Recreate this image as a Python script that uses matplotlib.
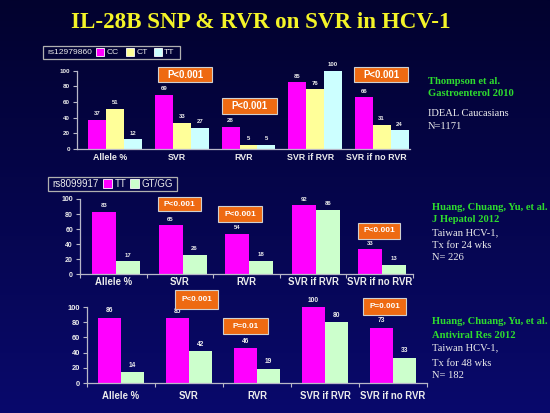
import matplotlib
matplotlib.use('Agg')
import matplotlib.pyplot as plt
from matplotlib.patches import Rectangle
from matplotlib.colors import LinearSegmentedColormap
import numpy as np

# ---- data ----
categories = ['Allele %', 'SVR', 'RVR', 'SVR if RVR', 'SVR if no RVR']

p1_cc = [37, 69, 28, 85, 66]
p1_ct = [51, 33, 5, 76, 31]
p1_tt = [12, 27, 5, 100, 24]

p2_tt = [83, 65, 54, 92, 33]
p2_gt = [17, 26, 18, 86, 13]

p3_tt = [86, 85, 46, 100, 73]
p3_gt = [14, 42, 19, 80, 33]

y_ticks = [0, 20, 40, 60, 80, 100]

BG_TOP = '#02022e'
BG_BOTTOM = '#09096c'
MAGENTA = '#ff00ff'
YELLOW = '#ffff99'
CYAN = '#ccffff'
GREEN = '#ccffcc'
ORANGE = '#ee6a12'
SPINE = '#b8b8c8'
TXT = '#ececec'
LIME = '#2edc2e'

SANS = 'Liberation Sans'
SERIF = 'Liberation Serif'

W, H = 550, 413
fig = plt.figure(figsize=(5.5, 4.13), dpi=100)
fig.patch.set_facecolor(BG_TOP)

# slide background: vertical gradient, dark at the top
bg = fig.add_axes([0, 0, 1, 1], zorder=-10)
grad = np.linspace(0, 1, 256).reshape(-1, 1)
bg.imshow(grad, aspect='auto', extent=[0, 1, 0, 1], origin='upper',
          cmap=LinearSegmentedColormap.from_list('slide', [BG_TOP, BG_BOTTOM]))
bg.axis('off')


def fx(x):
    return x / W


def fy(y):
    return 1 - y / H


def add_panel(left, right, top, bottom):
    ax = fig.add_axes([fx(left), fy(bottom), fx(right) - fx(left), fy(top) - fy(bottom)])
    ax.set_facecolor('none')
    return ax


def draw_panel(ax, series, colors, width, shift, tick_fs, val_fs, cat_fs, cat_pad, minor=False):
    x = np.arange(len(categories))
    n = len(series)
    for i, (vals, color) in enumerate(zip(series, colors)):
        offs = (i - (n - 1) / 2) * width + shift
        bars = ax.bar(x + offs, vals, width, color=color, edgecolor='none')
        for b, v in zip(bars, vals):
            ax.annotate(str(v), (b.get_x() + b.get_width() / 2, v), xytext=(0, 2.5),
                        textcoords='offset points', ha='center', va='bottom',
                        fontsize=val_fs, color=TXT, family=SANS, fontweight='bold',
                        annotation_clip=False)
    ax.set_xlim(-0.5, len(categories) - 0.5)
    ax.set_ylim(0, 100)
    ax.set_yticks(y_ticks)
    ax.set_yticklabels([str(t) for t in y_ticks], fontsize=tick_fs, color=TXT,
                       family=SANS, fontweight='bold')
    ax.set_xticks(x)
    ax.set_xticklabels(categories, fontsize=cat_fs, color=TXT, family=SANS, fontweight='bold')
    ax.tick_params(axis='x', length=0, pad=cat_pad)
    ax.tick_params(axis='y', length=3, width=0.8, color=SPINE, pad=2)
    if minor:
        ax.set_xticks(np.arange(len(categories) + 1) - 0.5, minor=True)
        ax.tick_params(axis='x', which='minor', length=3, width=0.8, color=SPINE)
    for s in ['top', 'right']:
        ax.spines[s].set_visible(False)
    for s in ['left', 'bottom']:
        ax.spines[s].set_color(SPINE)
        ax.spines[s].set_linewidth(0.9)


def pbox(x0, y0, x1, y1, text, fs):
    fig.add_artist(Rectangle((fx(x0), fy(y1)), fx(x1) - fx(x0), fy(y0) - fy(y1),
                             transform=fig.transFigure, facecolor=ORANGE,
                             edgecolor='#d0d0d0', lw=0.8))
    fig.text(fx((x0 + x1) / 2), fy((y0 + y1) / 2), text, ha='center', va='center',
             fontsize=fs, color='white', family=SANS, fontweight='bold')


def legend_box(x0, y0, x1, y1, title, items, fs, sq):
    fig.add_artist(Rectangle((fx(x0), fy(y1)), fx(x1) - fx(x0), fy(y0) - fy(y1),
                             transform=fig.transFigure, facecolor='none',
                             edgecolor='#b0b0b0', lw=0.9))
    yc = (y0 + y1) / 2
    fig.text(fx(x0 + 4), fy(yc), title, ha='left', va='center', fontsize=fs,
             color=TXT, family=SANS)
    for sx, label, color in items:
        fig.add_artist(Rectangle((fx(sx), fy(yc + sq / 2)), sq / W, sq / H,
                                 transform=fig.transFigure, facecolor=color,
                                 edgecolor='white', lw=0.6))
        fig.text(fx(sx + sq + 2.5), fy(yc), label, ha='left', va='center', fontsize=fs,
                 color=TXT, family=SANS)


def side_text(x, lines):
    for y, text, color, bold in lines:
        fig.text(fx(x), fy(y), text, ha='left', va='center', fontsize=7.6, color=color,
                 family=SERIF, fontweight='bold' if bold else 'normal')


# title
fig.text(fx(261), fy(23), 'IL-28B SNP & RVR on SVR in HCV-1', ha='center', va='center',
         fontsize=16.6, color='#f4f428', family=SERIF, fontweight='bold')

# panel 1
ax1 = add_panel(77, 410, 70.7, 148.7)
draw_panel(ax1, [p1_cc, p1_ct, p1_tt], [MAGENTA, YELLOW, CYAN], 0.27, 0.075,
           4.5, 4.3, 6.4, 3)
legend_box(43, 46, 180, 58.5, 'rs12979860',
           [(96, 'CC', MAGENTA), (126, 'CT', YELLOW), (153.5, 'TT', CYAN)], 6.1, 8)
pbox(158, 67, 212, 82, 'P<0.001', 6.9)
pbox(222, 98, 277, 114, 'P<0.001', 6.9)
pbox(354, 67, 408, 82, 'P<0.001', 6.9)
side_text(428, [(82, 'Thompson et al.', LIME, True),
                (94, 'Gastroenterol 2010', LIME, True),
                (114, 'IDEAL Caucasians', TXT, False),
                (126, 'N=1171', TXT, False)])

# panel 2
ax2 = add_panel(80, 413, 199, 274.3)
draw_panel(ax2, [p2_tt, p2_gt], [MAGENTA, GREEN], 0.36, 0.04,
           5, 4.3, 6.9, 2, minor=True)
legend_box(48, 177, 177, 190.5, 'rs8099917',
           [(103, 'TT', MAGENTA), (130, 'GT/GG', GREEN)], 7, 9)
pbox(158, 197, 201, 211, 'P<0.001', 6)
pbox(218, 206, 262, 222, 'P<0.001', 6)
pbox(358, 223, 400, 239, 'P<0.001', 6)
side_text(432, [(207, 'Huang, Chuang, Yu, et al.', LIME, True),
                (220, 'J Hepatol 2012', LIME, True),
                (233, 'Taiwan HCV-1,', TXT, False),
                (245, 'Tx for 24 wks', TXT, False),
                (258, 'N= 226', TXT, False)])

# panel 3
ax3 = add_panel(87, 427, 307, 383)
draw_panel(ax3, [p3_tt, p3_gt], [MAGENTA, GREEN], 0.345, 0.0,
           5.4, 4.8, 6.9, 6, minor=True)
pbox(175, 290, 218, 309, 'P<0.001', 5.9)
pbox(223, 318, 268, 334, 'P=0.01', 5.9)
pbox(363, 298, 406, 315, 'P=0.001', 5.9)
side_text(432, [(322, 'Huang, Chuang, Yu, et al.', LIME, True),
                (335, 'Antiviral Res 2012', LIME, True),
                (348, 'Taiwan HCV-1,', TXT, False),
                (363, 'Tx for 48 wks', TXT, False),
                (376, 'N= 182', TXT, False)])

fig.savefig('out.png', dpi=100)
